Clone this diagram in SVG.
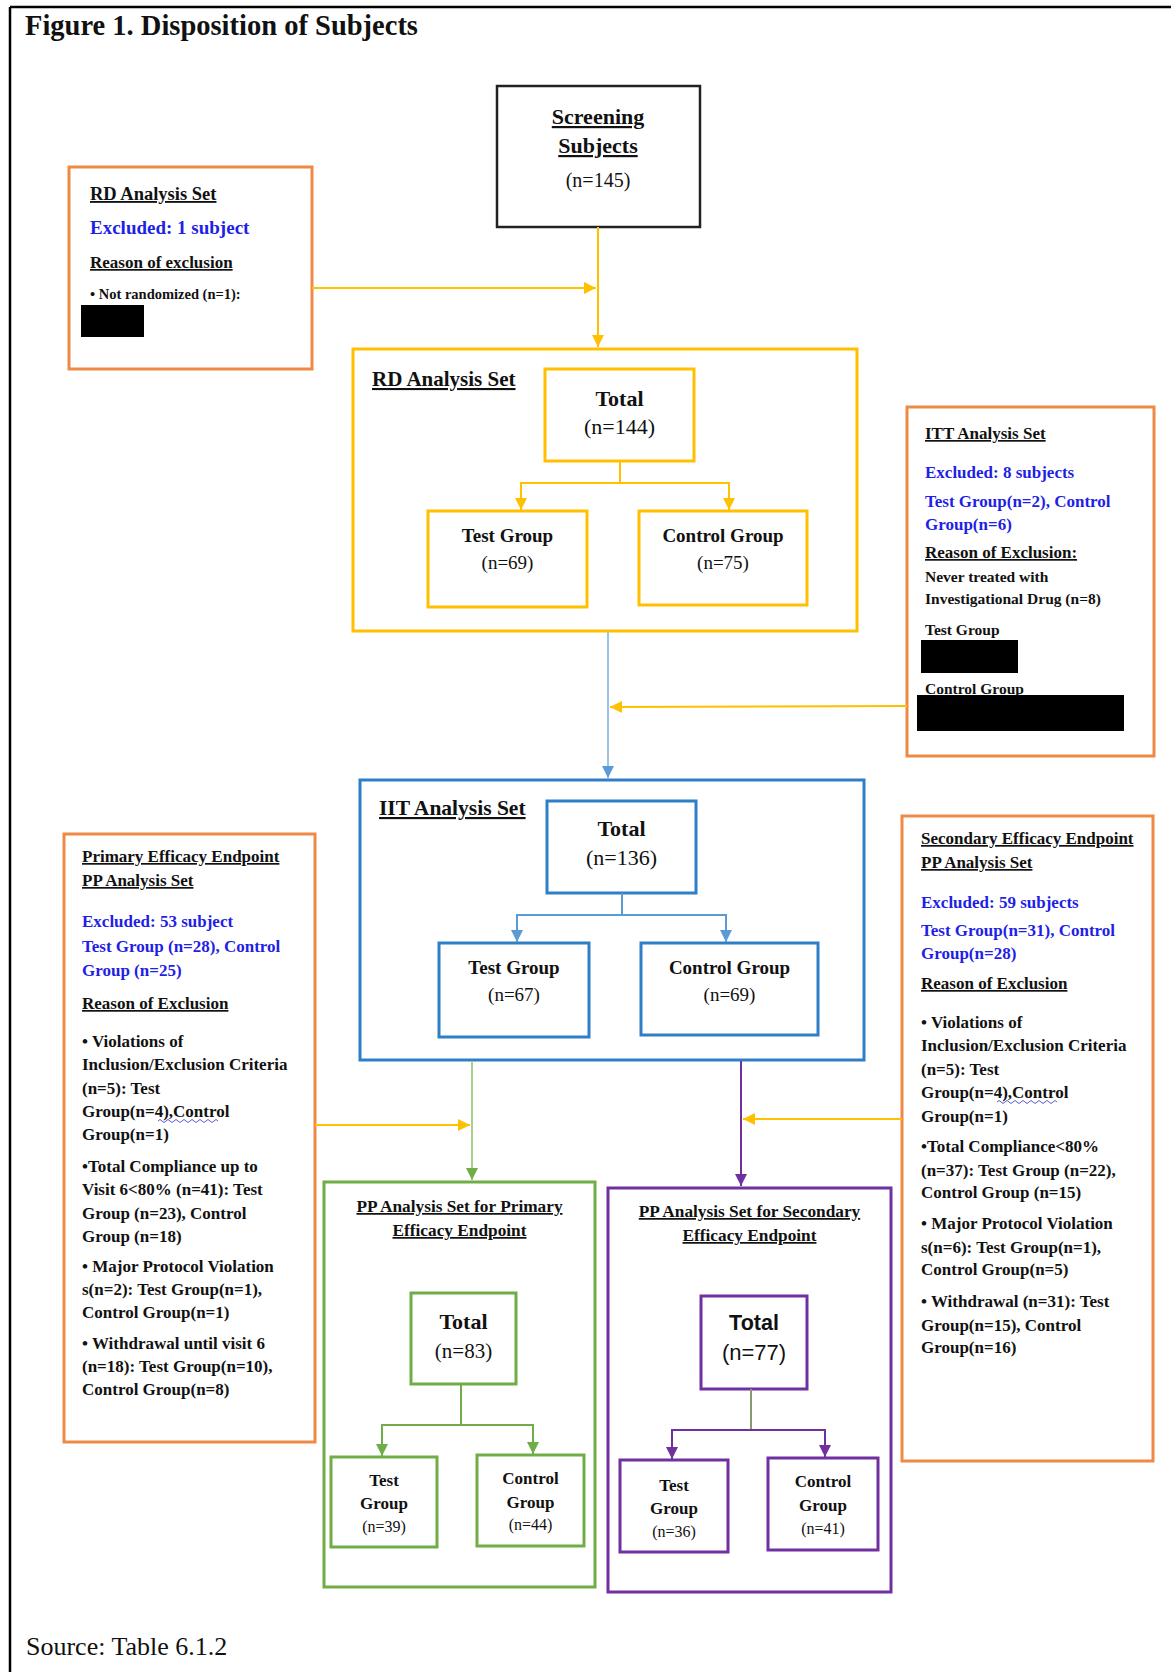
<svg xmlns="http://www.w3.org/2000/svg" width="1171" height="1672" viewBox="0 0 1171 1672">
<defs>
<style>
text{font-family:"Liberation Serif","Times New Roman",serif;fill:#111}
.b{font-weight:bold}
.u{text-decoration:underline}
.c{text-anchor:middle}
.blue{fill:#1f1fe6}
.s17{font-size:17px}
.s15{font-size:15.5px}
.sans{font-family:"Liberation Sans",Arial,sans-serif}
.box{fill:#fff;stroke-width:3}
.or{stroke:#ee8a45}
.ye{stroke:#ffc000}
.bl{stroke:#2e7fc8}
.gr{stroke:#70ad47}
.pu{stroke:#7030a0}
.ln{fill:none;stroke-width:2}
.pt{font-size:17.3px;font-weight:600}
</style>
<marker id="aY" viewBox="0 0 10 10" refX="10" refY="5" markerWidth="6" markerHeight="6" orient="auto" markerUnits="strokeWidth"><path d="M0,0 L10,5 L0,10 z" fill="#ffc000"/></marker>
<marker id="aB" viewBox="0 0 10 10" refX="10" refY="5" markerWidth="6" markerHeight="6" orient="auto" markerUnits="strokeWidth"><path d="M0,0 L10,5 L0,10 z" fill="#5b9bd5"/></marker>
<marker id="aG" viewBox="0 0 10 10" refX="10" refY="5" markerWidth="6" markerHeight="6" orient="auto" markerUnits="strokeWidth"><path d="M0,0 L10,5 L0,10 z" fill="#70ad47"/></marker>
<marker id="aP" viewBox="0 0 10 10" refX="10" refY="5" markerWidth="6" markerHeight="6" orient="auto" markerUnits="strokeWidth"><path d="M0,0 L10,5 L0,10 z" fill="#7030a0"/></marker>
</defs>
<rect x="0" y="0" width="1171" height="1672" fill="#fff"/>
<g id="frame">
<line x1="10" y1="7" x2="1171" y2="7" stroke="#000" stroke-width="2.5"/>
<line x1="10" y1="7" x2="10" y2="1672" stroke="#000" stroke-width="2.5"/>
<text x="25" y="35" class="b" font-size="28.5">Figure 1. Disposition of Subjects</text>
<text x="26" y="1655" font-size="26">Source: Table 6.1.2</text>
</g>

<g id="screening">
<rect x="497" y="86" width="203" height="141" fill="#fff" stroke="#222" stroke-width="2.5"/>
<text x="598" y="124" class="b u c" font-size="22">Screening</text>
<text x="598" y="153" class="b u c" font-size="22">Subjects</text>
<text x="598" y="187" class="c" font-size="20">(n=145)</text>
</g>

<g id="rd-excluded">
<rect x="69" y="167" width="243" height="202" class="box or"/>
<text x="90" y="200" class="b u" font-size="18.5">RD Analysis Set</text>
<text x="90" y="234" class="b blue" font-size="19">Excluded: 1 subject</text>
<text x="90" y="268" class="b u" font-size="17">Reason of exclusion</text>
<text x="90" y="299" class="b" font-size="14.5">• Not randomized (n=1):</text>
<rect x="81" y="305" width="63" height="32" fill="#000"/>
</g>

<g id="rd-set">
<rect x="353" y="349" width="504" height="282" class="box ye"/>
<text x="372" y="386" class="b u" font-size="21">RD Analysis Set</text>
<g id="rd-total">
<rect x="545" y="369" width="149" height="92" class="box ye"/>
<text x="619.5" y="406" class="b c" font-size="22">Total</text>
<text x="619.5" y="434" class="c" font-size="22">(n=144)</text>
</g>
<g id="rd-test">
<rect x="428" y="511" width="159" height="96" class="box ye"/>
<text x="507.5" y="542" class="b c" font-size="19">Test Group</text>
<text x="507.5" y="569" class="c" font-size="19">(n=69)</text>
</g>
<g id="rd-control">
<rect x="639" y="511" width="168" height="94" class="box ye"/>
<text x="723" y="542" class="b c" font-size="19">Control Group</text>
<text x="723" y="569" class="c" font-size="19">(n=75)</text>
</g>
</g>

<g id="itt-excluded">
<rect x="907" y="407" width="247" height="349" class="box or"/>
<text x="925" y="439" class="b u s17">ITT Analysis Set</text>
<text x="925" y="478" class="b blue s17">Excluded: 8 subjects</text>
<text x="925" y="507" class="b blue s17">Test Group(n=2), Control</text>
<text x="925" y="530" class="b blue s17">Group(n=6)</text>
<text x="925" y="558" class="b u s17">Reason of Exclusion:</text>
<text x="925" y="582" class="b s15">Never treated with</text>
<text x="925" y="604" class="b s15">Investigational Drug (n=8)</text>
<text x="925" y="635" class="b s15">Test Group</text>
<rect x="921" y="640" width="97" height="33" fill="#000"/>
<text x="925" y="694" class="b s15">Control Group</text>
<rect x="917" y="695" width="207" height="36" fill="#000"/>
</g>

<g id="iit-set">
<rect x="360" y="780" width="504" height="280" class="box bl"/>
<text x="379" y="815" class="b u" font-size="21.5">IIT Analysis Set</text>
<g id="iit-total">
<rect x="547" y="801" width="149" height="92" class="box bl"/>
<text x="621.5" y="836" class="b c" font-size="22">Total</text>
<text x="621.5" y="865" class="c" font-size="22">(n=136)</text>
</g>
<g id="iit-test">
<rect x="439" y="943" width="150" height="94" class="box bl"/>
<text x="514" y="974" class="b c" font-size="19">Test Group</text>
<text x="514" y="1001" class="c" font-size="19">(n=67)</text>
</g>
<g id="iit-control">
<rect x="641" y="943" width="177" height="92" class="box bl"/>
<text x="729.5" y="974" class="b c" font-size="19">Control Group</text>
<text x="729.5" y="1001" class="c" font-size="19">(n=69)</text>
</g>
</g>

<g id="primary-excluded">
<rect x="64" y="834" width="251" height="608" class="box or"/>
<text x="82" y="862" class="b u s17">Primary Efficacy Endpoint</text>
<text x="82" y="886" class="b u s17">PP Analysis Set</text>
<text x="82" y="927" class="b blue s17">Excluded: 53 subject</text>
<text x="82" y="952" class="b blue s17">Test Group (n=28), Control</text>
<text x="82" y="976" class="b blue s17">Group (n=25)</text>
<text x="82" y="1009" class="b u s17">Reason of Exclusion</text>
<text x="82" y="1047" class="b s17">• Violations of</text>
<text x="82" y="1070" class="b s17">Inclusion/Exclusion Criteria</text>
<text x="82" y="1094" class="b s17">(n=5): Test</text>
<text x="82" y="1117" class="b s17">Group(n=4),Control</text>
<path d="M158,1121 q2,-3 4,0 t4,0 t4,0 t4,0 t4,0 t4,0 t4,0 t4,0 t4,0 t4,0 t4,0 t4,0 t4,0 t4,0 t4,0" fill="none" stroke="#5a5ad0" stroke-width="1"/>
<text x="82" y="1140" class="b s17">Group(n=1)</text>
<text x="82" y="1172" class="b s17">•Total Compliance up to</text>
<text x="82" y="1195" class="b s17">Visit 6&lt;80% (n=41): Test</text>
<text x="82" y="1219" class="b s17">Group (n=23), Control</text>
<text x="82" y="1242" class="b s17">Group (n=18)</text>
<text x="82" y="1272" class="b s17">• Major Protocol Violation</text>
<text x="82" y="1295" class="b s17">s(n=2): Test Group(n=1),</text>
<text x="82" y="1318" class="b s17">Control Group(n=1)</text>
<text x="82" y="1349" class="b s17">• Withdrawal until visit 6</text>
<text x="82" y="1372" class="b s17">(n=18): Test Group(n=10),</text>
<text x="82" y="1395" class="b s17">Control Group(n=8)</text>
</g>

<g id="secondary-excluded">
<rect x="902" y="816" width="251" height="645" class="box or"/>
<text x="921" y="844" class="b u s17">Secondary Efficacy Endpoint</text>
<text x="921" y="868" class="b u s17">PP Analysis Set</text>
<text x="921" y="908" class="b blue s17">Excluded: 59 subjects</text>
<text x="921" y="936" class="b blue s17">Test Group(n=31), Control</text>
<text x="921" y="959" class="b blue s17">Group(n=28)</text>
<text x="921" y="989" class="b u s17">Reason of Exclusion</text>
<text x="921" y="1028" class="b s17">• Violations of</text>
<text x="921" y="1051" class="b s17">Inclusion/Exclusion Criteria</text>
<text x="921" y="1075" class="b s17">(n=5): Test</text>
<text x="921" y="1098" class="b s17">Group(n=4),Control</text>
<path d="M997,1102 q2,-3 4,0 t4,0 t4,0 t4,0 t4,0 t4,0 t4,0 t4,0 t4,0 t4,0 t4,0 t4,0 t4,0 t4,0 t4,0" fill="none" stroke="#5a5ad0" stroke-width="1"/>
<text x="921" y="1122" class="b s17">Group(n=1)</text>
<text x="921" y="1152" class="b s17">•Total Compliance&lt;80%</text>
<text x="921" y="1176" class="b s17">(n=37): Test Group (n=22),</text>
<text x="921" y="1198" class="b s17">Control Group (n=15)</text>
<text x="921" y="1229" class="b s17">• Major Protocol Violation</text>
<text x="921" y="1253" class="b s17">s(n=6): Test Group(n=1),</text>
<text x="921" y="1275" class="b s17">Control Group(n=5)</text>
<text x="921" y="1307" class="b s17">• Withdrawal (n=31): Test</text>
<text x="921" y="1331" class="b s17">Group(n=15), Control</text>
<text x="921" y="1353" class="b s17">Group(n=16)</text>
</g>

<g id="pp-primary">
<rect x="324" y="1182" width="271" height="405" class="box gr"/>
<text x="459.5" y="1212" class="u c pt">PP Analysis Set for Primary</text>
<text x="459.5" y="1236" class="u c pt">Efficacy Endpoint</text>
<g id="pp1-total">
<rect x="411" y="1293" width="105" height="91" class="box gr"/>
<text x="463.5" y="1329" class="b c" font-size="22">Total</text>
<text x="463.5" y="1358" class="c" font-size="21">(n=83)</text>
</g>
<g id="pp1-test">
<rect x="331" y="1457" width="106" height="90" class="box gr"/>
<text x="384" y="1486" class="b c s17">Test</text>
<text x="384" y="1509" class="b c s17">Group</text>
<text x="384" y="1532" class="c" font-size="16">(n=39)</text>
</g>
<g id="pp1-control">
<rect x="477" y="1455" width="107" height="91" class="box gr"/>
<text x="530.5" y="1484" class="b c s17">Control</text>
<text x="530.5" y="1508" class="b c s17">Group</text>
<text x="530.5" y="1530" class="c" font-size="16">(n=44)</text>
</g>
</g>

<g id="pp-secondary">
<rect x="608" y="1188" width="283" height="404" class="box pu"/>
<text x="749.5" y="1217" class="u c pt">PP Analysis Set for Secondary</text>
<text x="749.5" y="1241" class="u c pt">Efficacy Endpoint</text>
<g id="pp2-total">
<rect x="701" y="1296" width="106" height="93" class="box pu"/>
<text x="754" y="1330" class="sans b c" font-size="21.5">Total</text>
<text x="754" y="1360" class="sans c" font-size="22">(n=77)</text>
</g>
<g id="pp2-test">
<rect x="620" y="1460" width="108" height="92" class="box pu"/>
<text x="674" y="1491" class="b c s17">Test</text>
<text x="674" y="1514" class="b c s17">Group</text>
<text x="674" y="1537" class="c" font-size="16">(n=36)</text>
</g>
<g id="pp2-control">
<rect x="768" y="1458" width="110" height="92" class="box pu"/>
<text x="823" y="1487" class="b c s17">Control</text>
<text x="823" y="1511" class="b c s17">Group</text>
<text x="823" y="1534" class="c" font-size="16">(n=41)</text>
</g>
</g>

<g id="connectors">
<line x1="598" y1="227" x2="598" y2="347" class="ln ye" marker-end="url(#aY)"/>
<line x1="312" y1="288" x2="596" y2="288" class="ln ye" marker-end="url(#aY)"/>
<polyline points="620,461 620,483" class="ln ye"/>
<polyline points="521,483 729,483" class="ln ye"/>
<line x1="521" y1="482" x2="521" y2="510" class="ln ye" marker-end="url(#aY)"/>
<line x1="729" y1="482" x2="729" y2="510" class="ln ye" marker-end="url(#aY)"/>
<line x1="608" y1="632" x2="608" y2="778" class="ln" stroke="#9dc3e6" marker-end="url(#aB)"/>
<line x1="907" y1="706" x2="610" y2="707" class="ln ye" marker-end="url(#aY)"/>
<polyline points="622,893 622,915" class="ln" stroke="#5b9bd5"/>
<polyline points="517,915 726,915" class="ln" stroke="#5b9bd5"/>
<line x1="517" y1="914" x2="517" y2="942" class="ln" stroke="#5b9bd5" marker-end="url(#aB)"/>
<line x1="726" y1="914" x2="726" y2="942" class="ln" stroke="#5b9bd5" marker-end="url(#aB)"/>
<line x1="472" y1="1061" x2="472" y2="1180" class="ln" stroke="#a9d18e" marker-end="url(#aG)"/>
<line x1="741" y1="1061" x2="741" y2="1186" class="ln" stroke="#7030a0" marker-end="url(#aP)"/>
<line x1="315" y1="1125" x2="470" y2="1125" class="ln ye" marker-end="url(#aY)"/>
<line x1="902" y1="1119" x2="743" y2="1119" class="ln ye" marker-end="url(#aY)"/>
<polyline points="461,1384 461,1425" class="ln" stroke="#70ad47"/>
<polyline points="382,1425 533,1425" class="ln" stroke="#70ad47"/>
<line x1="382" y1="1424" x2="382" y2="1456" class="ln" stroke="#70ad47" marker-end="url(#aG)"/>
<line x1="533" y1="1424" x2="533" y2="1454" class="ln" stroke="#70ad47" marker-end="url(#aG)"/>
<polyline points="751,1389 751,1430" class="ln" stroke="#8a9a70" stroke-width="1.2"/>
<polyline points="672,1430 825,1430" class="ln" stroke="#7030a0"/>
<line x1="672" y1="1429" x2="672" y2="1459" class="ln" stroke="#7030a0" marker-end="url(#aP)"/>
<line x1="825" y1="1429" x2="825" y2="1457" class="ln" stroke="#7030a0" marker-end="url(#aP)"/>
</g>
</svg>
